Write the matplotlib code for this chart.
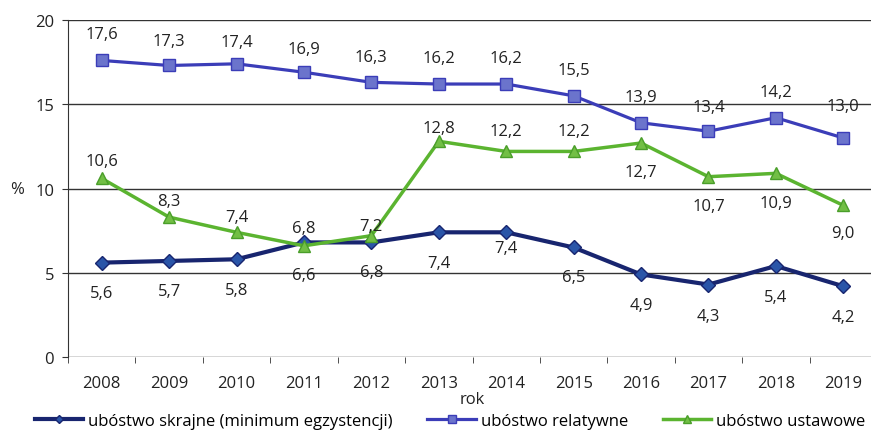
import numpy as np
import matplotlib
matplotlib.use("Agg")
import matplotlib.pyplot as plt

plt.rcParams['font.family'] = ['Open Sans', 'DejaVu Sans']

YEARS = [2008, 2009, 2010, 2011, 2012, 2013, 2014, 2015, 2016, 2017, 2018, 2019]
SKRAJNE = [5.6, 5.7, 5.8, 6.8, 6.8, 7.4, 7.4, 6.5, 4.9, 4.3, 5.4, 4.2]
RELATYWNE = [17.6, 17.3, 17.4, 16.9, 16.3, 16.2, 16.2, 15.5, 13.9, 13.4, 14.2, 13.0]
USTAWOWE = [10.6, 8.3, 7.4, 6.6, 7.2, 12.8, 12.2, 12.2, 12.7, 10.7, 10.9, 9.0]

# vertical offset of each data label, in pixels (negative = above)
SKRAJNE_OFF = [30, 30, 31, -14, 30, 31, 16, 30, 31, 31, 31, 31]
RELATYWNE_OFF = [-26, -24, -22, -23, -25, -26, -26, -26, -26, -24, -26, -32]
USTAWOWE_OFF = [-17, -16, -15, 29, -10, -13, -20, -20, 29, 29, 30, 28]


def fmt(v):
    return ("%.1f" % v).replace(".", ",")


def put_labels(ax, xs, ys, offs):
    for x, y, o in zip(xs, ys, offs):
        ax.annotate(fmt(y), (x, y), xytext=(0, -o * 0.72), textcoords="offset points",
                    ha="center", va="center", fontsize=12, color="#222222", zorder=5)


fig = plt.figure(figsize=(8.71, 4.35), dpi=100)
ax = fig.add_axes([68 / 871, 1 - 358 / 435, 809 / 871, 337 / 435])

ax.plot(YEARS, SKRAJNE, color="#18256f", lw=3.0, marker="D", ms=7,
        mfc="#2a55a8", mec="#18256f", label="ubóstwo skrajne (minimum egzystencji)", zorder=3)
ax.plot(YEARS, RELATYWNE, color="#3b3db8", lw=2.3, marker="s", ms=8.5,
        mfc="#6b74cc", mec="#3b3db8", label="ubóstwo relatywne", zorder=3)
ax.plot(YEARS, USTAWOWE, color="#5bb430", lw=2.5, marker="^", ms=8.5,
        mfc="#72bf45", mec="#4a9e2a", label="ubóstwo ustawowe", zorder=3)

put_labels(ax, YEARS, RELATYWNE, RELATYWNE_OFF)
put_labels(ax, YEARS, SKRAJNE, SKRAJNE_OFF)
put_labels(ax, YEARS, USTAWOWE, USTAWOWE_OFF)

ax.set_xlim(YEARS[0] - 0.5, YEARS[-1] + 0.5)
ax.set_ylim(0, 20)
ax.set_yticks([0, 5, 10, 15, 20])
ax.set_xticks(YEARS)
ax.set_xticks(np.arange(YEARS[0] - 0.5, YEARS[-1] + 0.6, 1.0), minor=True)
ax.grid(True, axis="y", color="#333333", lw=1.0)
for s in ["top", "right", "bottom"]:
    ax.spines[s].set_visible(False)
ax.spines["left"].set_color("#333333")
ax.tick_params(axis="x", which="major", length=0, labelsize=12, colors="#222222", pad=13)
ax.tick_params(axis="x", which="minor", length=4, color="#333333", direction="out")
ax.tick_params(axis="y", length=4, color="#333333", labelsize=12, labelcolor="#222222", pad=6)

ax.set_xlabel("rok", fontsize=12, color="#222222", va="center")
ax.xaxis.set_label_coords(0.5, (358 - 400) / 337)
ax.set_ylabel("%", fontsize=12, rotation=0, color="#222222", va="center", ha="center")
ax.yaxis.set_label_coords((17 - 68) / 809, (358 - 190) / 337)

fig.legend(*ax.get_legend_handles_labels(), loc="center",
           bbox_to_anchor=(450 / 871, 1 - 422 / 435), ncol=3, frameon=False,
           fontsize=12, handlelength=2.9, columnspacing=2.1, handletextpad=0.3,
           borderpad=0, borderaxespad=0, markerscale=0.6)

fig.savefig("out.png", dpi=100)
